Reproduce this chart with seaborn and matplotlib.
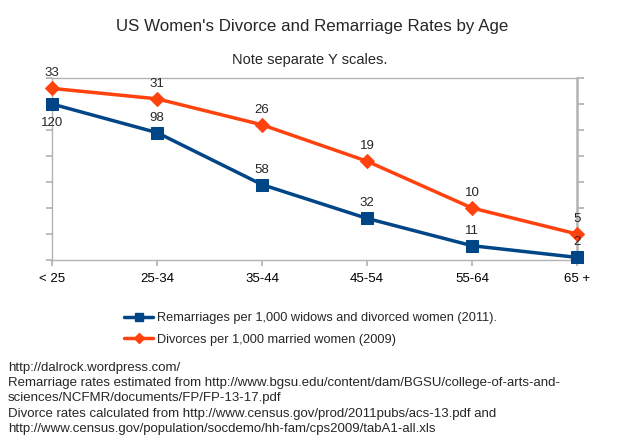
import matplotlib
matplotlib.use('Agg')
import matplotlib.pyplot as plt
import seaborn as sns
import pandas as pd
from matplotlib.lines import Line2D

sns.set_theme(style='white')
plt.rcParams['font.family'] = ['Liberation Sans', 'DejaVu Sans']

# data
age_groups = ['< 25', '25-34', '35-44', '45-54', '55-64', '65 +']
remarriage = [120, 98, 58, 32, 11, 2]
divorce = [33, 31, 26, 19, 10, 5]

BLUE = '#004586'
ORANGE = '#ff420e'
GRID = '#b3b3b3'

df = pd.DataFrame({'age': age_groups, 'remarriage': remarriage, 'divorce': divorce})

fig = plt.figure(figsize=(6.24, 4.42), dpi=100)
ax = fig.add_axes([52 / 624, 1 - 260 / 442, 525 / 624, 182 / 442])
ax2 = ax.twinx()
# keep the left-scale axes on top; frame lines live on the lower axes
ax.set_zorder(ax2.get_zorder() + 1)
ax.patch.set_visible(False)

sns.lineplot(data=df, x='age', y='remarriage', ax=ax, color=BLUE, lw=2.5,
             marker='s', markersize=8, markeredgecolor=BLUE, clip_on=False,
             sort=False, zorder=4)
sns.lineplot(data=df, x='age', y='divorce', ax=ax2, color=ORANGE, lw=2.5,
             marker='D', markersize=7, markeredgecolor=ORANGE, clip_on=False,
             sort=False, zorder=4)

ax.set_xlim(0, len(age_groups) - 1)
ax.set_ylim(0, 140)
ax2.set_ylim(0, 35)
ax.set_yticks(range(0, 141, 20))
ax2.set_yticks(range(0, 36, 5))
ax.set_yticklabels([])
ax2.set_yticklabels([])
ax.set_xlabel('')
ax.set_ylabel('')
ax2.set_ylabel('')

for s in ax.spines.values():
    s.set_visible(False)
for s in ax2.spines.values():
    s.set_color(GRID)
    s.set_linewidth(1)
ax2.spines['right'].set_linewidth(1.8)

ax.tick_params(axis='x', which='both', bottom=True, top=False, direction='out',
               length=4, color=GRID, labelsize=9.5, pad=5, labelcolor='black')
ax.tick_params(axis='y', left=True, right=False, direction='out', length=4, color=GRID)
ax2.tick_params(axis='y', left=False, right=True, direction='out', length=5, color=GRID)

# data labels, all on the top axes
for i, v in enumerate(remarriage):
    if i == 0:
        ax.annotate(str(v), (i, v), xytext=(0, -9), textcoords='offset points',
                    ha='center', va='top', fontsize=9.5, zorder=6)
    else:
        ax.annotate(str(v), (i, v), xytext=(0, 6.5), textcoords='offset points',
                    ha='center', va='bottom', fontsize=9.5, zorder=6)
for i, v in enumerate(divorce):
    ax.annotate(str(v), (i, v), xycoords=ax2.transData, xytext=(0, 6.5),
                textcoords='offset points', ha='center', va='bottom',
                fontsize=9.5, zorder=6)

fig.text(312 / 624, 1 - 27 / 442, "US Women's Divorce and Remarriage Rates by Age",
         ha='center', va='center', fontsize=12.2)
fig.text(310 / 624, 1 - 60 / 442, 'Note separate Y scales.',
         ha='center', va='center', fontsize=10.5)

handles = [
    Line2D([], [], color=BLUE, lw=2.5, marker='s', markersize=6),
    Line2D([], [], color=ORANGE, lw=2.5, marker='D', markersize=5),
]
labels = ['Remarriages per 1,000 widows and divorced women (2011).',
          'Divorces per 1,000 married women (2009)']
fig.legend(handles, labels, loc='upper left', bbox_to_anchor=(124 / 624, 1 - 312 / 442),
           frameon=False, fontsize=9.2, handlelength=2.3, handletextpad=0.25,
           labelspacing=0.75, borderaxespad=0, borderpad=0)

footnote = ('http://dalrock.wordpress.com/\n'
            'Remarriage rates estimated from http://www.bgsu.edu/content/dam/BGSU/college-of-arts-and-\n'
            'sciences/NCFMR/documents/FP/FP-13-17.pdf\n'
            'Divorce rates calculated from http://www.census.gov/prod/2011pubs/acs-13.pdf and\n'
            'http://www.census.gov/population/socdemo/hh-fam/cps2009/tabA1-all.xls')
fig.text(8 / 624, 1 - 362 / 442, footnote, ha='left', va='top', fontsize=9.5,
         linespacing=1.36)

fig.savefig('out.png', dpi=100)
